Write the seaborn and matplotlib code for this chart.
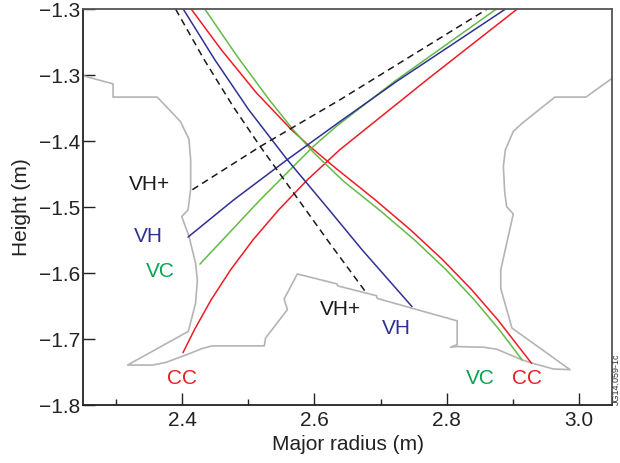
import matplotlib
matplotlib.use("Agg")
import matplotlib.pyplot as plt
import seaborn as sns

# first wall / divertor outline (m)
wall_r = [2.251, 2.295, 2.295, 2.362, 2.397, 2.410, 2.4125, 2.4125, 2.4085, 2.399,
          2.410, 2.420, 2.4227, 2.420, 2.409, 2.317, 2.355, 2.375, 2.402, 2.430,
          2.445, 2.524, 2.526, 2.559, 2.554, 2.574, 2.634, 2.635, 2.694, 2.695,
          2.755, 2.816, 2.816, 2.806, 2.816, 2.856, 2.876, 2.914, 2.929, 2.962,
          2.987, 2.899, 2.882, 2.882, 2.901, 2.891, 2.888, 2.886, 2.889, 2.901,
          2.914, 2.964, 3.011, 3.050]
wall_z = [-1.301, -1.313, -1.333, -1.333, -1.370, -1.397, -1.428, -1.473, -1.504, -1.514,
          -1.544, -1.585, -1.610, -1.645, -1.688, -1.739, -1.739, -1.735, -1.725, -1.714,
          -1.710, -1.710, -1.698, -1.655, -1.639, -1.601, -1.616, -1.619, -1.634, -1.638,
          -1.655, -1.672, -1.708, -1.712, -1.711, -1.712, -1.715, -1.731, -1.736, -1.745,
          -1.746, -1.683, -1.623, -1.595, -1.510, -1.499, -1.477, -1.438, -1.413, -1.385,
          -1.373, -1.333, -1.333, -1.305]

# separatrix legs for the four configurations
cc_in_r = [2.4009, 2.4181, 2.4435, 2.4730, 2.5070, 2.5460, 2.5895, 2.6385, 2.7707, 2.9064]
cc_in_z = [-1.7202, -1.6857, -1.6402, -1.5947, -1.5492, -1.5036, -1.4581, -1.4126, -1.3064, -1.2]
cc_out_r = [2.4136, 2.4585, 2.5121, 2.5649, 2.5927, 2.6318, 2.6917, 2.7452, 2.7941,
            2.8381, 2.8776, 2.9286]
cc_out_z = [-1.2, -1.2608, -1.3266, -1.3822, -1.4076, -1.4404, -1.4885, -1.5340, -1.5795,
            -1.6250, -1.6706, -1.7363]

vc_in_r = [2.4266, 2.5179, 2.5984, 2.6332, 2.7216, 2.8748]
vc_in_z = [-1.5860, -1.4885, -1.4076, -1.3772, -1.3089, -1.2]
vc_out_r = [2.4342, 2.4828, 2.5312, 2.5674, 2.5992, 2.6442, 2.6977, 2.7512, 2.7993,
            2.8419, 2.8800, 2.9144]
vc_out_z = [-1.2, -1.2710, -1.3367, -1.3822, -1.4176, -1.4607, -1.5036, -1.5492, -1.5947,
            -1.6402, -1.6857, -1.7313]

vh_in_r = [2.4085, 2.4780, 2.5587, 2.6392, 2.7249, 2.8886]
vh_in_z = [-1.5451, -1.4885, -1.4278, -1.3696, -1.3089, -1.2]
vh_out_r = [2.4015, 2.4488, 2.5002, 2.5587, 2.6241, 2.6720, 2.7476]
vh_out_z = [-1.2, -1.2760, -1.3519, -1.4278, -1.5062, -1.5643, -1.6504]

vhp_in_r = [2.4151, 2.5183, 2.6392, 2.8609]
vhp_in_z = [-1.4733, -1.4076, -1.3367, -1.2]
vhp_out_r = [2.3899, 2.4328, 2.4766, 2.5177, 2.5467, 2.6229, 2.6770]
vhp_out_z = [-1.2, -1.2760, -1.3469, -1.4076, -1.4480, -1.5542, -1.6276]

yticks = [-1.8, -1.7, -1.6, -1.5, -1.4, -1.3, -1.2]
ytick_labels = ["\u22121.8", "\u22121.7", "\u22121.6", "\u22121.5", "\u22121.4", "\u22121.3", "\u22121.3"]
xticks = [2.4, 2.6, 2.8, 3.0]
xminor = [2.3, 2.5, 2.7, 2.9]

red = "#ed1c24"
blue = "#2e3192"
green_line = "#62bb46"
green_text = "#00a651"
grey = "#b4b4b4"

sns.set_theme(style="ticks")
plt.rcParams["font.family"] = ["Liberation Sans", "DejaVu Sans"]

fig = plt.figure(figsize=(6.2, 4.63), dpi=100)
ax = fig.add_axes([0.1344, 0.1246, 0.8522, 0.8553])

sns.lineplot(x=wall_r, y=wall_z, sort=False, estimator=None, color=grey, lw=1.2, ax=ax)

legs = [
    (cc_in_r, cc_in_z, red), (cc_out_r, cc_out_z, red),
    (vc_in_r, vc_in_z, green_line), (vc_out_r, vc_out_z, green_line),
    (vh_in_r, vh_in_z, blue), (vh_out_r, vh_out_z, blue),
]
for r, z, c in legs:
    sns.lineplot(x=r, y=z, sort=False, estimator=None, color=c, lw=1.1, ax=ax)
for r, z in [(vhp_in_r, vhp_in_z), (vhp_out_r, vhp_out_z)]:
    ax.plot(r, z, color="#1a1a1a", lw=1.1, linestyle=(0, (4.5, 3)))

fs = 15
ax.text(2.3498, -1.4657, "VH+", color="#1a1a1a", fontsize=fs, ha="center", va="center")
ax.text(2.349, -1.5439, "VH", color=blue, fontsize=fs, ha="center", va="center")
ax.text(2.3672, -1.597, "VC", color=green_text, fontsize=fs, ha="center", va="center")
ax.text(2.40, -1.7593, "CC", color=red, fontsize=fs, ha="center", va="center")
ax.text(2.6388, -1.6554, "VH+", color="#1a1a1a", fontsize=fs, ha="center", va="center")
ax.text(2.7239, -1.6832, "VH", color=blue, fontsize=fs, ha="center", va="center")
ax.text(2.8508, -1.759, "VC", color=green_text, fontsize=fs, ha="center", va="center")
ax.text(2.9218, -1.759, "CC", color=red, fontsize=fs, ha="center", va="center")

ax.set_xlim(2.25, 3.05)
ax.set_ylim(-1.8, -1.2)
ax.set_xticks(xticks)
ax.set_xticklabels(["2.4", "2.6", "2.8", "3.0"])
ax.set_xticks(xminor, minor=True)
ax.set_yticks(yticks)
ax.set_yticklabels(ytick_labels)
ax.tick_params(axis="both", which="major", direction="in", length=8.5, width=1,
               labelsize=15, colors="#222222")
ax.tick_params(axis="x", which="major", pad=4)
ax.tick_params(axis="y", which="major", pad=2)
ax.tick_params(axis="x", which="minor", direction="in", length=4.5, width=1, color="#222222")

for side in ["left", "bottom"]:
    ax.spines[side].set_color("#222222")
    ax.spines[side].set_linewidth(1.3)
for side in ["top", "right"]:
    ax.spines[side].set_visible(True)
    ax.spines[side].set_color("#555555")
    ax.spines[side].set_linewidth(1.3)

ax.set_xlabel("Major radius (m)", fontsize=15, color="#222222", labelpad=4)
ax.set_ylabel("Height (m)", fontsize=15, color="#222222", labelpad=6)

fig.text(0.9875, 0.125, "JG14.059-1c", rotation=90, ha="left", va="bottom",
         fontsize=6.5, color="#333333")

fig.savefig("out.png", dpi=100)
